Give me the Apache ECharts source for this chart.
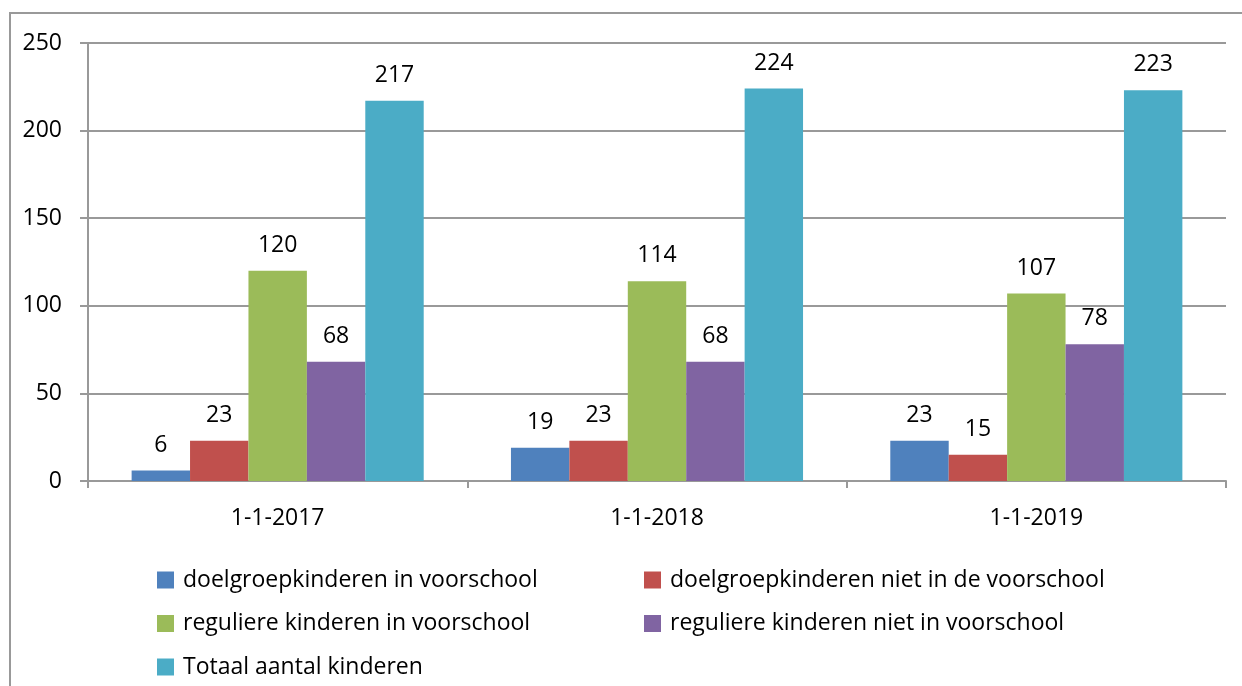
<!DOCTYPE html>
<html><head><meta charset="utf-8">
<script src="https://cdn.jsdelivr.net/npm/echarts@6/dist/echarts.min.js"></script>
<style>html,body{margin:0;padding:0;background:#fff}#c{width:1242px;height:686px}</style>
</head><body><div id="c"></div>
<script>
const categories = ['1-1-2017', '1-1-2018', '1-1-2019'];
const seriesNames = ['doelgroepkinderen in voorschool', 'doelgroepkinderen niet in de voorschool', 'reguliere kinderen in voorschool', 'reguliere kinderen niet in voorschool', 'Totaal aantal kinderen'];
const doelIn = [6, 19, 23];
const doelNiet = [23, 23, 15];
const regIn = [120, 114, 107];
const regNiet = [68, 68, 78];
const totaal = [217, 224, 223];
const colors = ['#4F81BD', '#C0504D', '#9BBB59', '#8064A2', '#4BACC6'];
const values = [doelIn, doelNiet, regIn, regNiet, totaal];

const font = '"Open Sans", "Noto Sans", sans-serif';
const legendText = { fontSize: 23, lineHeight: 24, color: '#000', fontFamily: font, padding: [0, 0, 0, 4] };
const chart = echarts.init(document.getElementById('c'));
chart.setOption({
  animation: false,
  textStyle: { fontFamily: font },
  graphic: [{ type: 'rect', shape: { x: 10, y: 13, width: 1400, height: 900 }, style: { fill: 'none', stroke: '#999', lineWidth: 2 } }],
  grid: { left: 88, right: 16, top: 43, bottom: 205 },
  legend: [
    { orient: 'vertical', left: 157, top: 568, padding: 0, itemWidth: 17, itemHeight: 17, itemGap: 19.5, icon: 'rect',
      data: [seriesNames[0], seriesNames[2], seriesNames[4]], textStyle: legendText },
    { orient: 'vertical', left: 644, top: 568, padding: 0, itemWidth: 17, itemHeight: 17, itemGap: 19.5, icon: 'rect',
      data: [seriesNames[1], seriesNames[3]], textStyle: legendText }
  ],
  xAxis: {
    type: 'category', data: categories,
    axisLine: { lineStyle: { color: '#999', width: 2 } },
    axisTick: { show: true, length: 7, lineStyle: { color: '#999', width: 2 } },
    axisLabel: { fontSize: 23, color: '#000', margin: 26, fontFamily: font }
  },
  yAxis: {
    type: 'value', min: 0, max: 250, interval: 50,
    axisLine: { show: true, lineStyle: { color: '#999', width: 2 } },
    axisTick: { show: true, length: 8, lineStyle: { color: '#999', width: 2 } },
    splitLine: { lineStyle: { color: '#999', width: 2 } },
    axisLabel: { fontSize: 23, color: '#000', margin: 26, fontFamily: font }
  },
  series: seriesNames.map((n, i) => ({
    name: n, type: 'bar', data: values[i],
    barGap: '0%', barCategoryGap: '23%',
    itemStyle: { color: colors[i] },
    label: { show: true, position: 'top', distance: 14, fontSize: 23, color: '#000', fontFamily: font }
  }))
});
</script></body></html>
